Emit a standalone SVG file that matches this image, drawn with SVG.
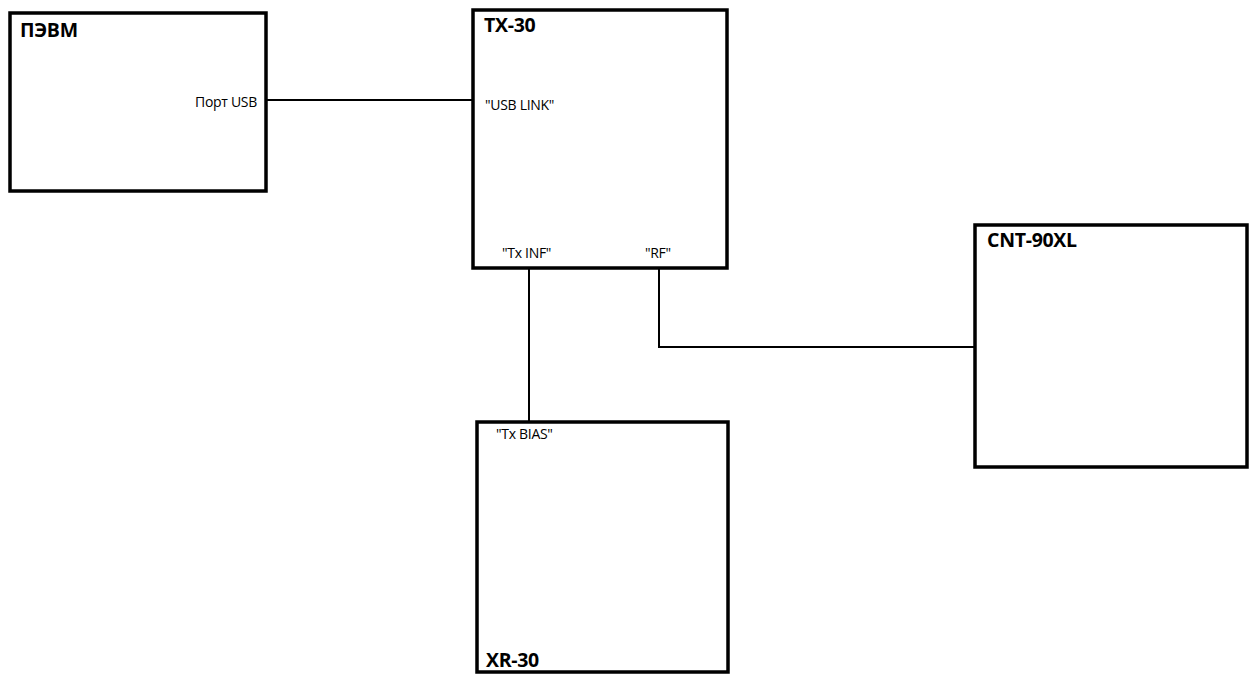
<svg xmlns="http://www.w3.org/2000/svg" width="1249" height="674" viewBox="0 0 1249 674">
<style>
.box{fill:#fff;stroke:#000;stroke-width:3.5}
.title{font-family:"Open Sans","Liberation Sans",sans-serif;font-weight:bold;font-size:19.5px;fill:#000;letter-spacing:-0.3px}
.port{font-family:"Open Sans","Liberation Sans",sans-serif;font-size:14px;fill:#000;letter-spacing:-0.3px}
.wire{fill:none;stroke:#000;stroke-width:2}
</style>
<rect width="1249" height="674" fill="#fff"/>
<g id="connectors">
<path class="wire" d="M266,100 H473"/>
<path class="wire" d="M529,268 V422"/>
<path class="wire" d="M659,268 V347 H975"/>
</g>
<g id="pevm">
<rect class="box" x="10" y="13" width="256" height="178"/>
<text class="title" x="20" y="37">ПЭВМ</text>
<text class="port" x="257" y="107" text-anchor="end">Порт USB</text>
</g>
<g id="tx30">
<rect class="box" x="473" y="10" width="254" height="258"/>
<text class="title" x="484" y="32">TX-30</text>
<text class="port" x="485" y="110">"USB LINK"</text>
<text class="port" x="502" y="258">"Tx INF"</text>
<text class="port" x="645" y="258">"RF"</text>
</g>
<g id="cnt90xl">
<rect class="box" x="975" y="225" width="272" height="242"/>
<text class="title" x="987" y="247">CNT-90XL</text>
</g>
<g id="xr30">
<rect class="box" x="477" y="422" width="251" height="250"/>
<text class="port" x="496" y="439">"Tx BIAS"</text>
<text class="title" x="486" y="667">XR-30</text>
</g>
</svg>
